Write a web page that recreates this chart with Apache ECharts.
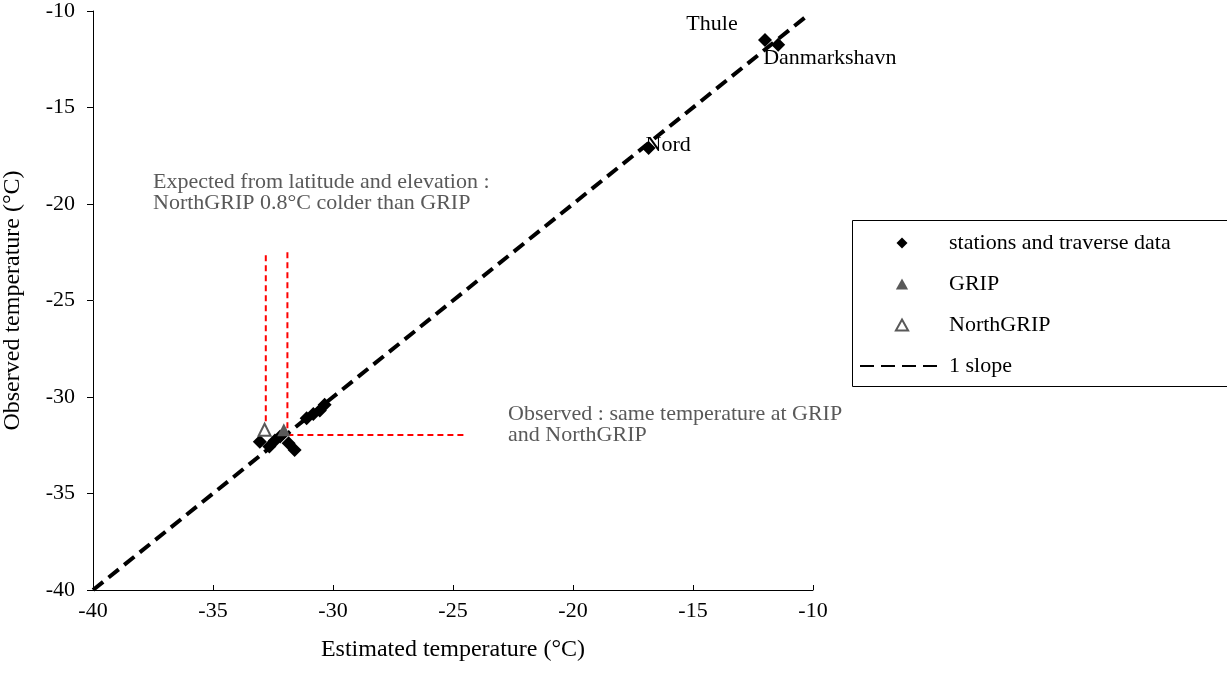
<!DOCTYPE html>
<html><head><meta charset="utf-8">
<script src="https://cdn.jsdelivr.net/npm/echarts@6/dist/echarts.min.js"></script>
<style>html,body{margin:0;padding:0;background:#fff}#c{width:1227px;height:689px}</style>
</head><body><div id="c"></div>
<script>
// ---- data ----
const xTickValues = [-40, -35, -30, -25, -20, -15, -10];
const yTickValues = [-40, -35, -30, -25, -20, -15, -10];
const stationNames = ['Thule', 'Danmarkshavn', 'Nord', '', '', '', '', '', '', '', '', '', ''];
const stationEstimated = [-12.0, -11.45, -16.85, -33.05, -32.65, -32.42, -32.2, -31.85, -31.6, -31.1, -30.82, -30.55, -30.35];
const stationObserved = [-11.5, -11.75, -17.1, -32.32, -32.57, -32.25, -32.05, -32.4, -32.75, -31.1, -30.88, -30.7, -30.4];
const gripPoint = [-32.05, -31.7];
const northGripPoint = [-32.85, -31.7];
const slopeLine = [[-40, -40], [-10.2, -10.2]];
const expectedNorthGripGuide = [[-32.8, -22.65], [-32.8, -31.4]];
const expectedGripGuide = [[-31.9, -22.5], [-31.9, -31.97]];
const observedGuide = [[-31.9, -31.97], [-24.45, -31.97]];
const legendNames = ['stations and traverse data', 'GRIP', 'NorthGRIP', '1 slope'];
const annotationExpected = ['Expected from latitude and elevation :', 'NorthGRIP 0.8°C colder than GRIP'];
const annotationObserved = ['Observed : same temperature at GRIP', 'and NorthGRIP'];

// ---- chart ----
const serif = '"Liberation Serif", "Times New Roman", serif';
const FS = 22;
const chart = echarts.init(document.getElementById('c'));

const labelOffsets = {
  'Thule': {align: 'center', offset: [-53, -16]},
  'Danmarkshavn': {align: 'left', offset: [-15, 13]},
  'Nord': {align: 'left', offset: [-3, -3]}
};
const stationData = stationEstimated.map((x, i) => {
  const name = stationNames[i];
  const item = {value: [x, stationObserved[i]], name: name};
  if (name && labelOffsets[name]) {
    item.label = {
      show: true, formatter: name, position: 'inside',
      align: labelOffsets[name].align, offset: labelOffsets[name].offset,
      fontFamily: serif, fontSize: FS, color: '#000'
    };
  }
  return item;
});

const guideStyle = {color: '#ff0000', width: 2, type: [6, 4]};
function guideSeries(data) {
  return {type: 'line', data: data, symbol: 'none', silent: true, lineStyle: guideStyle, itemStyle: {color: '#ff0000'}, z: 1};
}

const diamondIcon = 'path://M0,-1L1,0L0,1L-1,0Z';
const triangleIcon = 'path://M0,-1L1,0.8L-1,0.8Z';

chart.setOption({
  animation: false,
  backgroundColor: '#fff',
  grid: {left: 93, top: 11, right: 414, bottom: 99, containLabel: false, outerBoundsMode: 'none'},
  xAxis: {
    type: 'value', min: xTickValues[0], max: xTickValues[xTickValues.length - 1], interval: 5,
    name: 'Estimated temperature (°C)', nameLocation: 'middle', nameGap: 48,
    nameTextStyle: {fontFamily: serif, fontSize: 24, color: '#000'},
    axisLine: {lineStyle: {color: '#000', width: 1}},
    axisTick: {inside: true, length: 5, lineStyle: {color: '#000'}},
    axisLabel: {fontFamily: serif, fontSize: FS, color: '#000', margin: 10},
    splitLine: {show: false}
  },
  yAxis: {
    type: 'value', min: yTickValues[0], max: yTickValues[yTickValues.length - 1], interval: 5,
    name: 'Observed temperature (°C)', nameLocation: 'middle', nameGap: 68,
    nameTextStyle: {fontFamily: serif, fontSize: 24, color: '#000'},
    axisLine: {lineStyle: {color: '#000', width: 1}},
    axisTick: {inside: false, length: 6, lineStyle: {color: '#000'}},
    axisLabel: {fontFamily: serif, fontSize: FS, color: '#000', margin: 18},
    splitLine: {show: false}
  },
  legend: {
    orient: 'vertical', left: 859, top: 232, padding: 0,
    itemWidth: 84, itemHeight: 11, itemGap: 19, symbolKeepAspect: true,
    textStyle: {fontFamily: serif, fontSize: FS, color: '#000'},
    data: [
      {name: legendNames[0], icon: diamondIcon},
      {name: legendNames[1], icon: triangleIcon},
      {name: legendNames[2], icon: triangleIcon, itemStyle: {color: '#fff', borderColor: '#595959', borderWidth: 2}},
      {name: legendNames[3], lineStyle: {width: 2, type: [14, 7], color: '#000'},
        itemStyle: {color: 'transparent', opacity: 0, borderWidth: 0}}
    ]
  },
  graphic: [
    {type: 'rect', shape: {x: 852.5, y: 220.5, width: 420, height: 166},
      style: {fill: 'transparent', stroke: '#000', lineWidth: 1}, silent: true, z: 0},
    {type: 'text', left: 153, top: 171, silent: true,
      style: {text: annotationExpected.join('\n'), font: FS + 'px ' + serif, fill: '#595959', lineHeight: 21}},
    {type: 'text', left: 508, top: 403, silent: true,
      style: {text: annotationObserved.join('\n'), font: FS + 'px ' + serif, fill: '#595959', lineHeight: 21}}
  ],
  series: [
    guideSeries(expectedNorthGripGuide),
    guideSeries(expectedGripGuide),
    guideSeries(observedGuide),
    {
      name: legendNames[3], type: 'line', data: slopeLine, symbol: 'none', z: 2,
      itemStyle: {color: '#000'},
      lineStyle: {color: '#000', width: 4, type: [13, 7]}
    },
    {
      name: legendNames[0], type: 'scatter', data: stationData, symbol: 'diamond', symbolSize: 14, z: 3,
      itemStyle: {color: '#000', opacity: 1}
    },
    {
      name: legendNames[1], type: 'scatter', data: [gripPoint], symbol: 'triangle', symbolSize: 13, z: 4,
      itemStyle: {color: '#595959', opacity: 1}
    },
    {
      name: legendNames[2], type: 'scatter', data: [northGripPoint], symbol: 'triangle', symbolSize: 12, z: 4,
      itemStyle: {color: '#fff', borderColor: '#595959', borderWidth: 2, opacity: 1}
    }
  ]
});
</script></body></html>
